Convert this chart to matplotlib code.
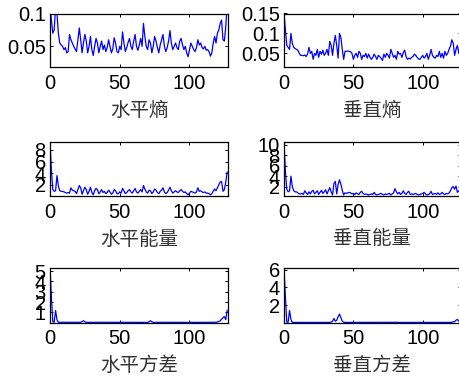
import numpy as np
import matplotlib
matplotlib.use("Agg")
import matplotlib.pyplot as plt

plt.rcParams['font.family'] = ['Liberation Sans', 'DejaVu Sans']

# feature index 0..127
idx = np.arange(128)

h_entropy = [0.115, 0.09, 0.07, 0.075, 0.11, 0.10, 0.07, 0.055, 0.052, 0.05,
             0.045, 0.048, 0.04, 0.042, 0.068, 0.06, 0.055, 0.05, 0.046, 0.042,
             0.06, 0.078, 0.06, 0.04, 0.055, 0.068, 0.058, 0.04, 0.05, 0.065,
             0.045, 0.036, 0.05, 0.062, 0.055, 0.04, 0.05, 0.058, 0.045, 0.052,
             0.042, 0.048, 0.06, 0.05, 0.04, 0.046, 0.063, 0.055, 0.042, 0.04,
             0.05, 0.045, 0.072, 0.055, 0.042, 0.048, 0.056, 0.062, 0.05, 0.045,
             0.058, 0.068, 0.05, 0.044, 0.052, 0.062, 0.05, 0.085, 0.065, 0.05,
             0.045, 0.06, 0.055, 0.04, 0.05, 0.065, 0.058, 0.048, 0.04, 0.052,
             0.06, 0.068, 0.05, 0.042, 0.048, 0.058, 0.074, 0.055, 0.045, 0.05,
             0.055, 0.048, 0.045, 0.058, 0.062, 0.052, 0.045, 0.05, 0.04, 0.034,
             0.045, 0.055, 0.05, 0.045, 0.042, 0.048, 0.06, 0.052, 0.055, 0.048,
             0.046, 0.05, 0.044, 0.045, 0.042, 0.035, 0.04, 0.055, 0.065, 0.055,
             0.07, 0.075, 0.085, 0.09, 0.06, 0.058, 0.08, 0.115]

v_entropy = [0.15, 0.11, 0.07, 0.065, 0.06, 0.1, 0.075, 0.065, 0.062, 0.06,
             0.058, 0.05, 0.045, 0.045, 0.044, 0.046, 0.042, 0.048, 0.065, 0.05,
             0.055, 0.035, 0.05, 0.045, 0.06, 0.04, 0.055, 0.048, 0.058, 0.045,
             0.05, 0.06, 0.045, 0.08, 0.07, 0.045, 0.075, 0.095, 0.07, 0.038,
             0.1, 0.09, 0.06, 0.035, 0.055, 0.055, 0.056, 0.055, 0.054, 0.05,
             0.035, 0.045, 0.05, 0.04, 0.055, 0.05, 0.035, 0.045, 0.042, 0.05,
             0.038, 0.048, 0.04, 0.035, 0.04, 0.048, 0.042, 0.035, 0.045, 0.042,
             0.038, 0.032, 0.048, 0.04, 0.05, 0.045, 0.038, 0.06, 0.05, 0.04,
             0.045, 0.035, 0.055, 0.048, 0.05, 0.04, 0.052, 0.058, 0.042, 0.035,
             0.038, 0.036, 0.04, 0.042, 0.048, 0.045, 0.04, 0.036, 0.035, 0.04,
             0.045, 0.038, 0.042, 0.05, 0.035, 0.045, 0.06, 0.045, 0.04, 0.038,
             0.045, 0.042, 0.055, 0.04, 0.05, 0.038, 0.055, 0.045, 0.05, 0.06,
             0.068, 0.084, 0.075, 0.045, 0.06, 0.07, 0.05, 0.07]

h_energy = [9.3, 4.5, 1.2, 0.9, 1.0, 3.6, 1.8, 1.0, 0.9, 0.9,
            0.8, 0.7, 0.6, 0.7, 0.6, 1.5, 1.1, 1.0, 0.9, 0.5,
            1.2, 1.9, 1.5, 0.4, 1.0, 1.6, 1.2, 0.4, 0.9, 1.6,
            0.7, 0.3, 1.0, 1.4, 1.2, 0.5, 0.8, 1.2, 0.7, 0.9,
            0.5, 0.7, 1.1, 0.8, 0.4, 0.6, 1.2, 1.0, 0.5, 0.5,
            0.8, 0.6, 1.4, 1.0, 0.5, 0.7, 1.0, 1.2, 0.8, 0.6,
            1.0, 1.4, 0.8, 0.6, 0.9, 1.2, 0.8, 1.9, 1.3, 0.8,
            0.6, 1.1, 1.0, 0.5, 0.8, 1.3, 1.1, 0.7, 0.5, 0.9,
            1.1, 1.5, 0.8, 0.5, 0.7, 1.1, 1.6, 1.0, 0.6, 0.8,
            1.0, 0.8, 0.7, 1.0, 1.2, 0.9, 0.7, 0.8, 0.5, 0.3,
            0.6, 0.9, 0.8, 0.7, 0.6, 0.8, 1.5, 0.9, 1.0, 0.8,
            0.7, 0.8, 0.6, 0.6, 0.5, 0.3, 0.5, 0.9, 1.3, 1.0,
            1.5, 2.0, 2.5, 2.6, 0.9, 1.2, 2.5, 4.2]

v_energy = [10.5, 5.0, 1.5, 1.0, 1.2, 4.0, 2.0, 1.2, 1.0, 1.0,
            0.8, 0.6, 0.6, 0.7, 0.5, 1.2, 0.8, 0.5, 1.0, 0.6,
            1.1, 1.3, 0.6, 0.9, 1.2, 0.5, 0.9, 1.3, 0.7, 1.0,
            1.4, 0.6, 1.2, 1.8, 1.0, 0.4, 2.6, 3.0, 0.6, 2.4,
            3.3, 2.5, 1.3, 0.4, 0.8, 0.7, 0.8, 0.9, 0.8, 0.6,
            0.7, 0.5, 0.8, 0.6, 0.5, 0.9, 1.1, 0.7, 0.5, 0.6,
            0.5, 0.4, 0.5, 0.6, 0.5, 0.9, 0.5, 0.4, 0.5, 0.6,
            0.7, 0.5, 0.4, 0.6, 0.5, 0.6, 0.7, 0.4, 0.6, 0.8,
            1.6, 1.0, 0.6, 0.9, 0.5, 0.7, 1.2, 0.7, 0.5, 0.9,
            1.1, 0.5, 0.6, 0.5, 0.6, 0.7, 0.5, 0.4, 0.5, 0.6,
            0.7, 0.9, 0.6, 0.4, 0.5, 0.6, 1.1, 0.5, 0.6, 0.7,
            0.5, 0.8, 0.5, 0.6, 0.9, 0.6, 0.5, 0.7, 0.6, 0.8,
            1.2, 1.8, 2.0, 1.5, 2.1, 0.9, 1.2, 0.8]

h_variance = [5.3, 2.5, 0.1, 0.06, 1.2, 0.3, 0.05, 0.05, 0.04, 0.05,
              0.04, 0.05, 0.04, 0.04, 0.05, 0.05, 0.04, 0.05, 0.04, 0.04,
              0.05, 0.06, 0.05, 0.12, 0.2, 0.1, 0.05, 0.04, 0.05, 0.05,
              0.04, 0.04, 0.05, 0.05, 0.05, 0.04, 0.05, 0.05, 0.04, 0.05,
              0.04, 0.04, 0.05, 0.05, 0.04, 0.04, 0.05, 0.05, 0.04, 0.04,
              0.05, 0.04, 0.06, 0.05, 0.04, 0.04, 0.05, 0.05, 0.05, 0.04,
              0.05, 0.05, 0.04, 0.04, 0.05, 0.05, 0.04, 0.06, 0.05, 0.04,
              0.04, 0.1, 0.2, 0.1, 0.04, 0.05, 0.05, 0.04, 0.04, 0.05,
              0.05, 0.05, 0.04, 0.04, 0.04, 0.05, 0.06, 0.05, 0.04, 0.04,
              0.05, 0.04, 0.04, 0.05, 0.05, 0.04, 0.04, 0.04, 0.04, 0.03,
              0.04, 0.05, 0.04, 0.04, 0.04, 0.04, 0.05, 0.04, 0.05, 0.04,
              0.04, 0.04, 0.04, 0.04, 0.04, 0.03, 0.04, 0.05, 0.06, 0.05,
              0.08, 0.12, 0.2, 0.35, 0.5, 0.6, 0.3, 1.2]

v_variance = [6.2, 3.0, 0.1, 0.08, 1.4, 0.4, 0.06, 0.06, 0.06, 0.06,
              0.06, 0.06, 0.06, 0.06, 0.06, 0.06, 0.06, 0.06, 0.06, 0.06,
              0.06, 0.06, 0.06, 0.06, 0.06, 0.06, 0.06, 0.06, 0.06, 0.06,
              0.06, 0.06, 0.06, 0.06, 0.1, 0.2, 0.5, 0.2, 0.3, 0.7,
              1.0, 0.6, 0.2, 0.08, 0.06, 0.06, 0.06, 0.06, 0.06, 0.06,
              0.06, 0.06, 0.06, 0.06, 0.06, 0.06, 0.06, 0.06, 0.06, 0.06,
              0.06, 0.06, 0.06, 0.06, 0.06, 0.06, 0.06, 0.06, 0.06, 0.06,
              0.06, 0.06, 0.06, 0.06, 0.06, 0.06, 0.06, 0.06, 0.06, 0.06,
              0.07, 0.08, 0.06, 0.06, 0.06, 0.06, 0.06, 0.06, 0.06, 0.06,
              0.06, 0.06, 0.06, 0.06, 0.06, 0.06, 0.06, 0.06, 0.06, 0.06,
              0.06, 0.06, 0.06, 0.06, 0.06, 0.06, 0.06, 0.06, 0.06, 0.06,
              0.06, 0.06, 0.06, 0.06, 0.06, 0.06, 0.06, 0.06, 0.06, 0.06,
              0.06, 0.08, 0.12, 0.15, 0.3, 0.4, 0.2, 0.1]

titles = ["水平熵", "垂直熵", "水平能量", "垂直能量", "水平方差", "垂直方差"]
series = [h_entropy, v_entropy, h_energy, v_energy, h_variance, v_variance]
ylims = [(0.018, 0.1), (0.015, 0.15), (0.1, 9.3), (0.2, 10.5), (0.03, 5.3), (0.05, 6.2)]
yticks = [[0.05, 0.1], [0.05, 0.1, 0.15], [2, 4, 6, 8], [2, 4, 6, 8, 10],
          [1, 2, 3, 4, 5], [2, 4, 6]]
ytick_labels = [["0.05", "0.1"], ["0.05", "0.1", "0.15"], ["2", "4", "6", "8"],
                ["2", "4", "6", "8", "10"], ["1", "2", "3", "4", "5"], ["2", "4", "6"]]
xticks = [0, 50, 100]

W, H = 460, 378
fig = plt.figure(figsize=(W / 100, H / 100), dpi=100)

# pixel boxes: (left, right) per column, (top, bottom) per row
col_x = [(50, 228), (284, 461)]
row_y = [(13.5, 67.3), (142.3, 196), (268, 322.5)]

for i in range(6):
    r, c = divmod(i, 2)
    x0, x1 = col_x[c]
    y0, y1 = row_y[r]
    ax = fig.add_axes([x0 / W, 1 - y1 / H, (x1 - x0) / W, (y1 - y0) / H])
    ax.plot(idx, series[i], color='#0000ff', lw=0.9)
    ax.set_xlim(0, 127.6)
    ax.set_ylim(*ylims[i])
    ax.set_xticks(xticks)
    ax.set_xticklabels([str(t) for t in xticks])
    ax.set_yticks(yticks[i])
    ax.set_yticklabels(ytick_labels[i])
    ax.tick_params(direction='in', length=2.5, width=0.7, labelsize=14.5,
                   top=True, right=True, pad=5)
    ax.tick_params(axis='y', pad=3)
    for s in ax.spines.values():
        s.set_linewidth(0.9)
    ax.text(0.5, -43 / (y1 - y0), titles[i], transform=ax.transAxes,
            ha='center', va='center', fontsize=14, color='#333333',
            family=['Noto Sans CJK SC', 'DejaVu Sans'])

fig.savefig("out.png", dpi=100)
